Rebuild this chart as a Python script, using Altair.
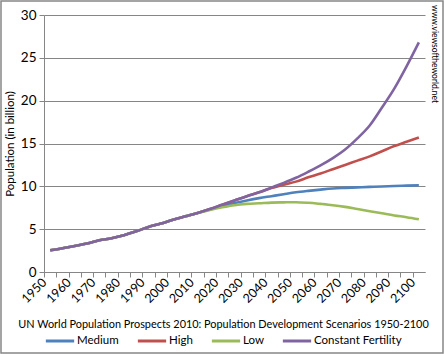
import altair as alt
import pandas as pd

years = list(range(1950, 2101, 5))
series_names = ["Medium", "High", "Low", "Constant Fertility"]
series_colors = ["#4F81BD", "#C0504D", "#9BBB59", "#8064A2"]

hist = [2.53, 2.77, 3.04, 3.33, 3.70, 3.95, 4.30, 4.75, 5.25, 5.65, 6.10, 6.50, 6.90]
medium = hist + [7.30, 7.70, 8.05, 8.35, 8.62, 8.85, 9.08, 9.30, 9.47, 9.62,
                 9.75, 9.82, 9.88, 9.94, 9.98, 10.04, 10.08, 10.12]
high = hist + [7.35, 7.85, 8.35, 8.85, 9.30, 9.80, 10.20, 10.55, 11.05, 11.50,
               12.00, 12.50, 13.00, 13.50, 14.10, 14.70, 15.20, 15.70]
low = hist + [7.25, 7.55, 7.80, 7.95, 8.02, 8.10, 8.13, 8.15, 8.08, 7.95,
              7.80, 7.60, 7.35, 7.10, 6.85, 6.60, 6.40, 6.15]
constant = hist + [7.35, 7.85, 8.35, 8.85, 9.30, 9.85, 10.40, 11.00, 11.70, 12.45,
                   13.30, 14.30, 15.60, 17.10, 19.20, 21.40, 24.00, 26.80]

y_ticks = [0, 5, 10, 15, 20, 25, 30]
x_title = "UN World Population Prospects 2010: Population Development Scenarios 1950-2100"
y_title = "Population (in billion)"
watermark = ["www.viewsoftheworld.net"]

rows = []
for name, vals in zip(series_names, [medium, high, low, constant]):
    for yr, v in zip(years, vals):
        rows.append({"Year": yr, "Population": v, "Scenario": name})
df = pd.DataFrame(rows)

W, H = 381, 257
FONT = "Lato"

lines = alt.Chart(df).mark_line(strokeWidth=2.6, interpolate="monotone").encode(
    x=alt.X("Year:Q",
            scale=alt.Scale(domain=[1947.5, 2102.5], nice=False, zero=False),
            axis=alt.Axis(values=years, labelExpr="datum.value % 10 == 0 ? datum.value : ''",
                          labelAngle=-45, labelAlign="right", labelBaseline="middle",
                          labelFontSize=12.5, labelColor="#000", labelFont=FONT,
                          labelPadding=3, labelOverlap=False,
                          tickOffset=-6.15, tickSize=5, tickColor="#868686",
                          domainColor="#868686", grid=False,
                          title=x_title, titleFontSize=10.9, titleFontWeight="normal",
                          titleFont=FONT, titleColor="#000", titlePadding=13,
                          titleX=179, titleAlign="center")),
    y=alt.Y("Population:Q",
            scale=alt.Scale(domain=[0, 30], nice=False),
            axis=alt.Axis(values=y_ticks, labelFontSize=13.5, labelColor="#000",
                          labelFont=FONT, labelPadding=3,
                          tickSize=5, tickColor="#868686", domainColor="#868686",
                          grid=True, gridColor="#868686", gridWidth=1,
                          title=y_title, titleFontSize=11.5, titleFontWeight="normal",
                          titleFont=FONT, titleColor="#000", titlePadding=5)),
    color=alt.Color("Scenario:N",
                    scale=alt.Scale(domain=series_names, range=series_colors),
                    sort=series_names,
                    legend=alt.Legend(orient="bottom", direction="horizontal", title=None,
                                      symbolType="stroke", symbolStrokeWidth=3,
                                      symbolSize=800, labelFontSize=11.5,
                                      labelFont=FONT, labelColor="#000",
                                      columnPadding=12, labelOffset=1, offset=-5,
                                      padding=0)),
    order=alt.Order("Year:Q"),
)

wm = alt.Chart(pd.DataFrame({"t": watermark})).mark_text(
    angle=90, align="left", baseline="middle", fontSize=8.5, font=FONT, color="#000"
).encode(x=alt.value(W + 10), y=alt.value(-10), text="t:N")

border_df = pd.DataFrame({"a": [0]})
border = alt.Chart(border_df).mark_rect(fill=None, stroke="#868686", strokeWidth=1.5).encode(
    x=alt.value(-43), x2=alt.value(W + 18), y=alt.value(-14), y2=alt.value(H + 81)
)

chart = alt.layer(border, lines, wm).properties(
    width=W, height=H,
    autosize=alt.AutoSizeParams(type="none"),
    padding={"left": 44, "top": 15, "right": 20, "bottom": 82},
).configure_view(strokeWidth=0)

chart.save("out.html", embed_options={"renderer": "svg", "actions": False})
